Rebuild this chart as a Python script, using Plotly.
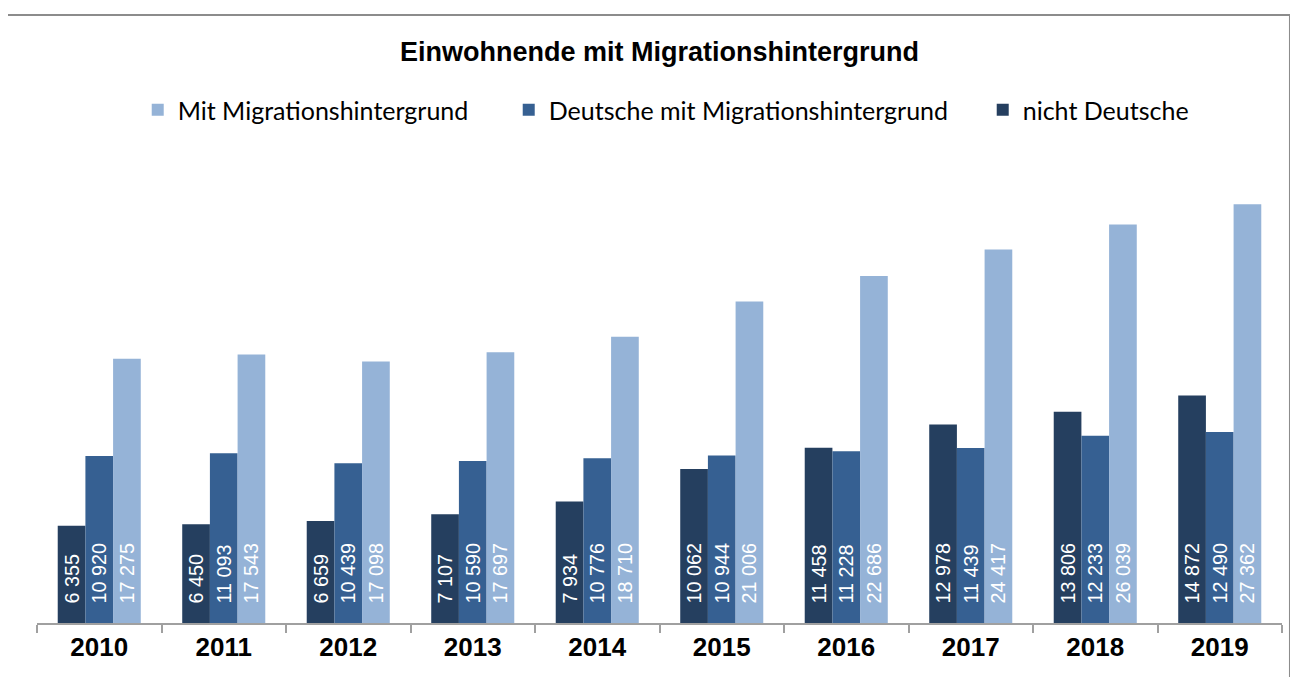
import plotly.graph_objects as go

years = ["2010", "2011", "2012", "2013", "2014", "2015", "2016", "2017", "2018", "2019"]
nicht_deutsche = [6355, 6450, 6659, 7107, 7934, 10062, 11458, 12978, 13806, 14872]
deutsche_mit_mh = [10920, 11093, 10439, 10590, 10776, 10944, 11228, 11439, 12233, 12490]
mit_mh = [17275, 17543, 17098, 17697, 18710, 21006, 22686, 24417, 26039, 27362]

# name, values, colour, legend rank, legend entry width
series = [
    ("nicht Deutsche", nicht_deutsche, "#253f5f", 3, None),
    ("Deutsche mit Migrationshintergrund", deutsche_mit_mh, "#366092", 2, 429),
    ("Mit Migrationshintergrund", mit_mh, "#95b3d7", 1, 326),
]


def fmt(v):
    # leading padding lifts the label off the axis a little
    return "\u00a0\u00a0\u00a0" + f"{v:,}".replace(",", " ")


fig = go.Figure()
for name, vals, color, rank, lw in series:
    fig.add_trace(go.Bar(
        x=years,
        y=vals,
        name=name,
        marker=dict(color=color, line=dict(width=0)),
        text=[fmt(v) for v in vals],
        textposition="inside",
        insidetextanchor="start",
        textangle=-90,
        textfont=dict(family="Liberation Sans, Arial", size=21, color="white"),
        legendrank=rank,
        legendwidth=lw,
    ))

# page body has an 8px margin, so the figure starts at (8, 8)
fig.update_layout(
    width=1298,
    height=677,
    barmode="group",
    bargap=0.333,
    bargroupgap=0,
    plot_bgcolor="white",
    paper_bgcolor="white",
    margin=dict(l=29, r=24, t=156, b=62),
    title=dict(
        text="<b>Einwohnende mit Migrationshintergrund</b>",
        x=0.502, xanchor="center",
        y=1 - 44 / 677, yanchor="middle",
        font=dict(family="Liberation Sans, Arial", size=27, color="black"),
    ),
    legend=dict(
        orientation="h",
        x=0.505, xanchor="center",
        y=1.1176, yanchor="middle",
        font=dict(family="Lato, Open Sans", size=25, color="black"),
        itemwidth=30,
        traceorder="normal",
    ),
    showlegend=True,
    uniformtext=dict(minsize=10, mode="show"),
)

fig.update_xaxes(
    type="category",
    showline=True,
    linecolor="#a0a0a0",
    linewidth=2,
    ticks="outside",
    tickson="boundaries",
    ticklen=8,
    tickcolor="#a0a0a0",
    tickwidth=2,
    tickfont=dict(family="Liberation Sans, Arial", size=26, color="black"),
    tickprefix="<b>",
    ticksuffix="</b>",
    showgrid=False,
)
fig.update_yaxes(
    range=[0, 30000],
    visible=False,
    showgrid=False,
)

# outer chart border
fig.add_shape(
    type="rect", xref="paper", yref="paper",
    x0=-0.0241, x1=1.0064, y0=-0.2, y1=1.3246,
    line=dict(color="#8c8c8c", width=2),
    fillcolor="rgba(0,0,0,0)", layer="below",
)

fig.write_html("out.html")
